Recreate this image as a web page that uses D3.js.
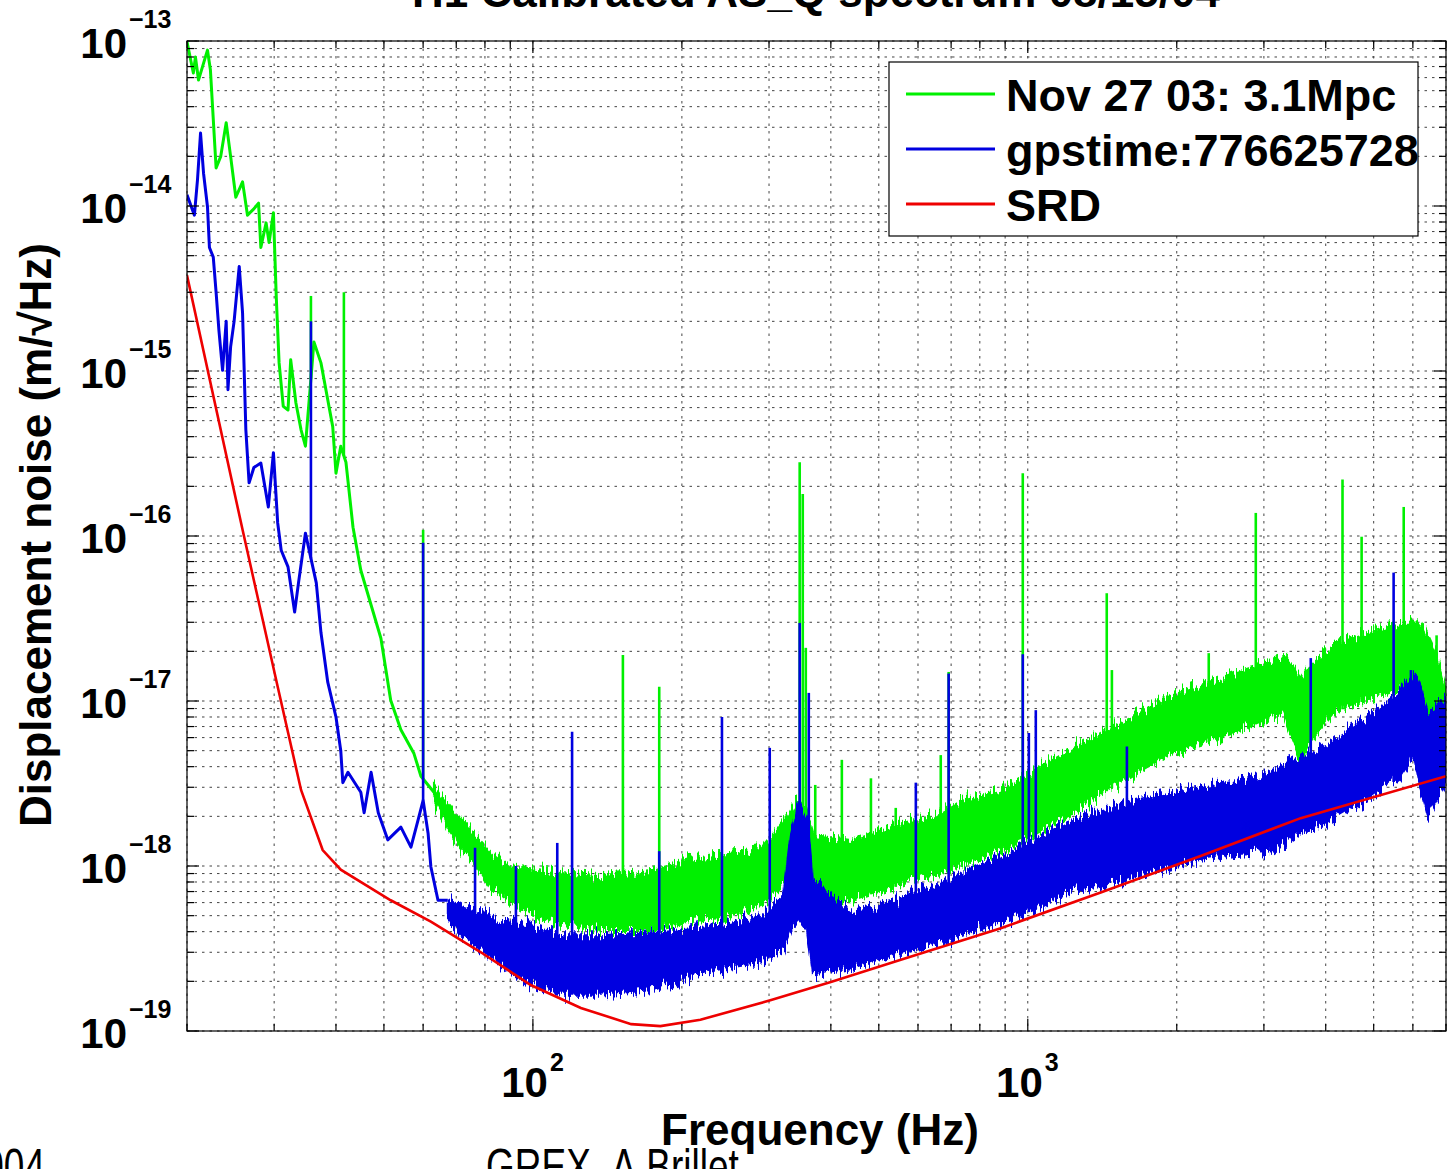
<!DOCTYPE html>
<html><head><meta charset="utf-8">
<script src="https://cdn.jsdelivr.net/npm/d3@7"></script>
<style>
body{margin:0;background:#fff;}
svg{display:block;font-family:"Liberation Sans",Arial,Helvetica,sans-serif;}
</style>
</head><body>
<svg id="chart" width="1450" height="1169"></svg>
<script>
// ---------------- data ----------------
const titleText = "H1 Calibrated AS_Q spectrum 08/15/04";
const xAxisTitle = "Frequency (Hz)";
const yAxisTitle = "Displacement noise (m/\u221AHz)";
const legendLabels = ["Nov 27 03: 3.1Mpc", "gpstime:776625728", "SRD"];
const seriesColors = ["#00f000", "#0000e0", "#ee0000"];
const footerLeft = "2004";
const footerMid = "GREX- A.Brillet";

const xDomain = [20, 7000];
const yDomain = [1e-19, 1e-13];
const xMajorTicks = [100, 1000];
const xMajorExps = ["2", "3"];
const xMinorTicks = [20, 30, 40, 50, 60, 70, 80, 90, 200, 300, 400, 500, 600, 700, 800, 900, 2000, 3000, 4000, 5000, 6000, 7000];
const yDecadeTicks = [1e-19, 1e-18, 1e-17, 1e-16, 1e-15, 1e-14, 1e-13];
const yDecadeExps = ["\u221219", "\u221218", "\u221217", "\u221216", "\u221215", "\u221214", "\u221213"];
const yMinorMultipliers = [2, 3, 4, 5, 6, 7, 8, 9];

// SRD (red)
const srdFreq = [20, 25.9, 30.5, 34.0, 37.6, 40.9, 51.6, 62.2, 78.5, 99, 125, 158, 181, 218, 303, 400, 554, 882, 1404, 2235, 3560, 7000];
const srdVal = [3.8e-15, 1.09e-16, 1.22e-17, 2.89e-18, 1.25e-18, 9.5e-19, 6.2e-19, 4.6e-19, 3.0e-19, 1.9e-19, 1.38e-19, 1.10e-19, 1.07e-19, 1.17e-19, 1.54e-19, 1.98e-19, 2.7e-19, 4.2e-19, 6.9e-19, 1.15e-18, 1.95e-18, 3.5e-18];

// Nov 27 03 (green): low-frequency trace, then noise band envelope, then lines
const greenLineFreq = [20, 20.6, 20.8, 21.1, 21.5, 22.0, 22.3, 22.9, 23.4, 24.0, 24.5, 25.1, 25.9, 26.5, 27.2, 27.9, 28.2, 28.9, 29.3, 29.9, 30.3, 30.7, 31.3, 32.0, 32.4, 33.2, 34.0, 34.7, 36.1, 37.3, 38.5, 39.4, 40.0, 40.9, 41.9, 43.3, 44.9, 49.3, 51.6, 54.1, 57.5, 59.4, 63.1];
const greenLineVal = [9.9e-14, 6.4e-14, 8.0e-14, 5.8e-14, 7.0e-14, 8.8e-14, 6.7e-14, 1.7e-14, 2.0e-14, 3.2e-14, 2.0e-14, 1.13e-14, 1.4e-14, 8.8e-15, 9.5e-15, 1.04e-14, 5.6e-15, 7.9e-15, 6.0e-15, 9.1e-15, 2.8e-15, 1.12e-15, 6.1e-16, 5.8e-16, 1.17e-15, 6.4e-16, 4.4e-16, 3.5e-16, 1.5e-15, 1.12e-15, 6.7e-16, 4.6e-16, 2.4e-16, 3.5e-16, 2.8e-16, 1.13e-16, 6.2e-17, 2.4e-17, 1.01e-17, 6.7e-18, 4.8e-18, 3.5e-18, 2.8e-18];
const greenBandFreq = [63.1, 67.3, 71.6, 77.5, 82.2, 89.0, 99.1, 113.9, 137, 175, 208, 236, 289, 327, 340, 356, 370, 439, 536, 637, 732, 882, 1028, 1205, 1404, 1638, 1918, 2235, 2608, 3055, 3291, 3430, 3560, 3731, 4152, 4860, 5670, 6225, 6610, 6830, 7000];
const greenBandHigh = [3.1e-18, 2.35e-18, 1.9e-18, 1.48e-18, 1.22e-18, 1.0e-18, 9.7e-19, 9.2e-19, 8.8e-19, 9.5e-19, 1.09e-18, 1.16e-18, 1.25e-18, 2.0e-18, 2.5e-18, 2.35e-18, 1.54e-18, 1.44e-18, 1.77e-18, 2.0e-18, 2.5e-18, 2.9e-18, 3.8e-18, 5.05e-18, 6.4e-18, 8.2e-18, 1.06e-17, 1.25e-17, 1.48e-17, 1.72e-17, 1.85e-17, 1.66e-17, 1.34e-17, 1.66e-17, 2.25e-17, 2.58e-17, 2.97e-17, 3.0e-17, 2.04e-17, 1.54e-17, 1.16e-17];
const greenBandLow = [2.5e-18, 1.66e-18, 1.29e-18, 9.7e-19, 7.4e-19, 6.2e-19, 5.05e-19, 4.4e-19, 4.1e-19, 4.1e-19, 4.7e-19, 4.8e-19, 5.8e-19, 8.2e-19, 1.09e-18, 9.5e-19, 6.2e-19, 6.2e-19, 7.4e-19, 8.8e-19, 1.0e-18, 1.25e-18, 1.54e-18, 2.0e-18, 2.7e-18, 3.56e-18, 4.7e-18, 5.4e-18, 6.4e-18, 7.7e-18, 8.2e-18, 5.8e-18, 4.4e-18, 5.8e-18, 8.5e-18, 1.02e-17, 1.2e-17, 1.12e-17, 6.7e-18, 4.4e-18, 3.4e-18];
const greenSpikeFreq = [35.6, 41.5, 60, 152, 180, 346, 351, 356, 372, 421, 482, 541, 667, 692, 977, 1444, 1479, 2321, 2889, 4325, 4727, 5750, 6700];
const greenSpikeVal = [2.85e-15, 3.0e-15, 1.09e-16, 1.9e-17, 1.22e-17, 2.8e-16, 1.8e-16, 2.1e-17, 3.1e-18, 4.4e-18, 3.4e-18, 2.25e-18, 4.7e-18, 1.5e-17, 2.4e-16, 4.5e-17, 1.54e-17, 1.95e-17, 1.38e-16, 2.2e-16, 9.9e-17, 1.5e-16, 2.5e-17];

// gpstime:776625728 (blue)
const blueLineFreq = [20, 20.7, 21.0, 21.3, 21.6, 22.0, 22.2, 22.6, 22.9, 23.2, 23.6, 24.0, 24.2, 24.5, 24.9, 25.5, 25.9, 26.3, 26.7, 27.3, 28.2, 29.2, 29.9, 30.5, 31.0, 32.0, 33.0, 33.6, 34.7, 36.5, 37.3, 38.5, 40.0, 40.9, 41.3, 42.3, 44.9, 45.6, 47.1, 48.7, 50.9, 54.1, 56.7, 58.6, 60.0, 61.4, 62.2, 64.3, 67.3];
const blueLineVal = [1.17e-14, 8.8e-15, 1.44e-14, 2.77e-14, 1.58e-14, 9.9e-15, 5.6e-15, 4.9e-15, 3.0e-15, 1.77e-15, 1.01e-15, 2.0e-15, 7.7e-16, 1.4e-15, 2.0e-15, 4.3e-15, 2.25e-15, 4.4e-16, 2.1e-16, 2.6e-16, 2.77e-16, 1.5e-16, 3.2e-16, 1.2e-16, 8.2e-17, 6.5e-17, 3.46e-17, 5.2e-17, 1.04e-16, 5.2e-17, 2.6e-17, 1.3e-17, 8.0e-18, 5.0e-18, 3.2e-18, 3.7e-18, 2.8e-18, 2.1e-18, 3.7e-18, 2.1e-18, 1.44e-18, 1.72e-18, 1.3e-18, 1.9e-18, 2.5e-18, 1.58e-18, 9.9e-19, 6.2e-19, 6.2e-19];
const blueBandFreq = [67.3, 71.6, 78.5, 86.1, 99.1, 113.9, 137, 175, 208, 236, 289, 321, 332, 345, 358, 368, 439, 536, 637, 732, 882, 1028, 1205, 1404, 1638, 1918, 2235, 2608, 3055, 3560, 4152, 4860, 5670, 6030, 6225, 6430, 6700, 7000];
const blueBandHigh = [6.2e-19, 5.8e-19, 5.3e-19, 4.7e-19, 4.4e-19, 3.8e-19, 3.8e-19, 3.98e-19, 4.2e-19, 4.4e-19, 5.05e-19, 6.7e-19, 1.54e-18, 2.5e-18, 2.0e-18, 8.2e-19, 5.3e-19, 6.2e-19, 7.4e-19, 9.1e-19, 1.16e-18, 1.44e-18, 1.85e-18, 2.2e-18, 2.5e-18, 2.77e-18, 3.0e-18, 3.3e-18, 3.66e-18, 4.6e-18, 5.8e-18, 8.0e-18, 1.16e-17, 1.48e-17, 1.16e-17, 8.5e-18, 9.5e-18, 1.06e-17];
const blueBandLow = [4.7e-19, 3.8e-19, 3.1e-19, 2.5e-19, 1.9e-19, 1.66e-19, 1.66e-19, 1.77e-19, 2.1e-19, 2.35e-19, 2.6e-19, 3.1e-19, 4.1e-19, 4.7e-19, 4.1e-19, 2.2e-19, 2.4e-19, 2.9e-19, 3.3e-19, 3.8e-19, 4.5e-19, 5.4e-19, 6.9e-19, 7.7e-19, 8.6e-19, 9.7e-19, 1.09e-18, 1.16e-18, 1.2e-18, 1.58e-18, 1.9e-18, 2.5e-18, 3.46e-18, 4.6e-18, 2.9e-18, 2.0e-18, 2.5e-18, 3.2e-18];
const blueSpikeFreq = [35.6, 60, 76.4, 92.4, 112, 120, 180, 241, 301, 346, 361, 594, 692, 977, 1005, 1038, 1586, 3731, 5486, 5946];
const blueSpikeVal = [2.0e-15, 9.1e-17, 1.29e-18, 1.0e-18, 1.38e-18, 6.5e-18, 1.23e-18, 8.0e-18, 5.2e-18, 2.97e-17, 1.12e-17, 3.2e-18, 1.47e-17, 1.92e-17, 6.4e-18, 8.8e-18, 5.3e-18, 1.82e-17, 6.0e-17, 1.54e-17];

// ---------------- drawing ----------------
const svg = d3.select("#chart");
const plot = {left: 187, right: 1446, top: 41, bottom: 1031};
const x = d3.scaleLog().domain(xDomain).range([plot.left, plot.right]);
const y = d3.scaleLog().domain(yDomain).range([plot.bottom, plot.top]);

svg.append("rect").attr("width", 1450).attr("height", 1169).attr("fill", "#fff");

const defs = svg.append("defs");
defs.append("clipPath").attr("id", "clip")
  .append("rect").attr("x", plot.left).attr("y", plot.top)
  .attr("width", plot.right - plot.left).attr("height", plot.bottom - plot.top);
// rendering texture: roughens the edges of the noise bands vertically
const flt = defs.append("filter").attr("id", "rough").attr("filterUnits", "userSpaceOnUse")
  .attr("x", 0).attr("y", 0).attr("width", 1450).attr("height", 1169);
flt.append("feTurbulence").attr("type", "fractalNoise").attr("baseFrequency", "0.45 0.03")
  .attr("numOctaves", 2).attr("seed", 7).attr("result", "t");
flt.append("feColorMatrix").attr("in", "t").attr("type", "matrix")
  .attr("values", "0 0 0 0 0.5  0 1 0 0 0  0 0 1 0 0  0 0 0 0 1").attr("result", "m");
flt.append("feDisplacementMap").attr("in", "SourceGraphic").attr("in2", "m")
  .attr("scale", 26).attr("xChannelSelector", "R").attr("yChannelSelector", "G");

// grid
const yMinor = [];
yDecadeTicks.slice(0, -1).forEach(d => yMinorMultipliers.forEach(k => yMinor.push(d * k)));
const yGridVals = yDecadeTicks.concat(yMinor);
const xGridVals = xMajorTicks.concat(xMinorTicks);
const grid = svg.append("g").attr("stroke", "#222").attr("stroke-width", 1)
  .attr("stroke-dasharray", "2.5,5").attr("opacity", 0.85);
grid.selectAll("line.gx").data(xGridVals).join("line")
  .attr("x1", d => x(d)).attr("x2", d => x(d)).attr("y1", plot.top).attr("y2", plot.bottom);
grid.selectAll("line.gy").data(yGridVals).join("line").attr("class", "gy")
  .attr("x1", plot.left).attr("x2", plot.right).attr("y1", d => y(d)).attr("y2", d => y(d));

function interpLog(fs, vs, f) {
  const i = d3.bisectLeft(fs, f);
  if (i <= 0) return vs[0];
  if (i >= fs.length) return vs[vs.length - 1];
  const a = Math.log10(fs[i - 1]), b = Math.log10(fs[i]);
  const t = (Math.log10(f) - a) / (b - a);
  const va = Math.log10(vs[i - 1]), vb = Math.log10(vs[i]);
  return Math.pow(10, va + t * (vb - va));
}

const data = svg.append("g").attr("clip-path", "url(#clip)");
const line = d3.line().x(d => x(d[0])).y(d => y(d[1]));
const area = d3.area().x(d => x(d[0])).y0(d => y(d[2])).y1(d => y(d[1]));

function drawSeries(color, lf, lv, bf, bh, bl, sf, sv) {
  const g = data.append("g");
  const band = bf.map((f, i) => [f, bh[i], bl[i]]);
  g.append("g").attr("filter", "url(#rough)")
    .append("path").datum(band).attr("d", area).attr("fill", color)
    .attr("stroke", color).attr("stroke-width", 2).attr("stroke-linejoin", "bevel");
  g.append("path").datum(band).attr("d", area).attr("fill", color)
    .attr("transform", "translate(0,0)").attr("opacity", 1)
    .attr("d", d3.area().x(d => x(d[0]))
      .y0(d => (y(d[2]) + y(d[1])) / 2 + (y(d[2]) - y(d[1])) * 0.3)
      .y1(d => (y(d[2]) + y(d[1])) / 2 - (y(d[2]) - y(d[1])) * 0.3));
  g.append("path").datum(lf.map((f, i) => [f, lv[i]])).attr("d", line)
    .attr("fill", "none").attr("stroke", color).attr("stroke-width", 3).attr("stroke-linejoin", "round");
  const baseF = lf.concat(bf.slice(1));
  const baseV = lv.concat(bl.slice(1));
  g.selectAll("line.spike").data(sf.map((f, i) => [f, sv[i]])).join("line")
    .attr("x1", d => x(d[0])).attr("x2", d => x(d[0]))
    .attr("y1", d => y(interpLog(baseF, baseV, d[0]))).attr("y2", d => y(d[1]))
    .attr("stroke", color).attr("stroke-width", 2.6);
}
drawSeries(seriesColors[0], greenLineFreq, greenLineVal, greenBandFreq, greenBandHigh, greenBandLow, greenSpikeFreq, greenSpikeVal);
drawSeries(seriesColors[1], blueLineFreq, blueLineVal, blueBandFreq, blueBandHigh, blueBandLow, blueSpikeFreq, blueSpikeVal);
data.append("path").datum(srdFreq.map((f, i) => [f, srdVal[i]])).attr("d", line)
  .attr("fill", "none").attr("stroke", seriesColors[2]).attr("stroke-width", 2.6);

// axes box and ticks
const ax = svg.append("g").attr("stroke", "#000").attr("stroke-width", 1.2);
ax.append("rect").attr("x", plot.left).attr("y", plot.top)
  .attr("width", plot.right - plot.left).attr("height", plot.bottom - plot.top).attr("fill", "none");
function xTicks(vals, len) {
  ax.selectAll(null).data(vals).join("line").attr("x1", d => x(d)).attr("x2", d => x(d))
    .attr("y1", plot.bottom).attr("y2", plot.bottom - len);
  ax.selectAll(null).data(vals).join("line").attr("x1", d => x(d)).attr("x2", d => x(d))
    .attr("y1", plot.top).attr("y2", plot.top + len);
}
function yTicks(vals, len) {
  ax.selectAll(null).data(vals).join("line").attr("y1", d => y(d)).attr("y2", d => y(d))
    .attr("x1", plot.left).attr("x2", plot.left + len);
  ax.selectAll(null).data(vals).join("line").attr("y1", d => y(d)).attr("y2", d => y(d))
    .attr("x1", plot.right).attr("x2", plot.right - len);
}
xTicks(xMajorTicks, 12); xTicks(xMinorTicks, 7);
yTicks(yDecadeTicks, 12); yTicks(yMinor, 7);

// tick labels
const lab = svg.append("g").attr("font-weight", "bold").attr("fill", "#000");
yDecadeTicks.forEach((d, i) => {
  lab.append("text").attr("x", 127).attr("y", y(d) + 17).attr("text-anchor", "end")
    .attr("font-size", 42).text("10");
  lab.append("text").attr("x", 129).attr("y", y(d) - 13).attr("text-anchor", "start")
    .attr("font-size", 25).text(yDecadeExps[i]);
});
xMajorTicks.forEach((d, i) => {
  lab.append("text").attr("x", x(d) + 15).attr("y", 1097).attr("text-anchor", "end")
    .attr("font-size", 42).text("10");
  lab.append("text").attr("x", x(d) + 17).attr("y", 1071).attr("text-anchor", "start")
    .attr("font-size", 25).text(xMajorExps[i]);
});

// axis titles
lab.append("text").attr("x", 820).attr("y", 1145).attr("text-anchor", "middle")
  .attr("font-size", 44).text(xAxisTitle);
lab.append("text").attr("transform", "translate(51,535) rotate(-90)").attr("text-anchor", "middle")
  .attr("font-size", 44).text(yAxisTitle);
lab.append("text").attr("x", 816).attr("y", 7).attr("text-anchor", "middle")
  .attr("font-size", 44).text(titleText);

// legend
const lg = svg.append("g");
lg.append("rect").attr("x", 889).attr("y", 62).attr("width", 529).attr("height", 174)
  .attr("fill", "#fff").attr("stroke", "#000").attr("stroke-width", 1.2);
const legendY = [94, 149, 204];
legendLabels.forEach((t, i) => {
  lg.append("line").attr("x1", 906).attr("x2", 995).attr("y1", legendY[i]).attr("y2", legendY[i])
    .attr("stroke", seriesColors[i]).attr("stroke-width", 3);
  lg.append("text").attr("x", 1006).attr("y", legendY[i] + 17).attr("font-size", 45)
    .attr("font-weight", "bold").text(t);
});

// slide footer (cut off at the bottom edge)
svg.append("text").attr("transform", "translate(45,1184) scale(0.74,1)").attr("text-anchor", "end")
  .attr("font-size", 50).text(footerLeft);
svg.append("text").attr("transform", "translate(486,1184) scale(0.74,1)").attr("text-anchor", "start")
  .attr("font-size", 50).text(footerMid);
</script>
</body></html>
